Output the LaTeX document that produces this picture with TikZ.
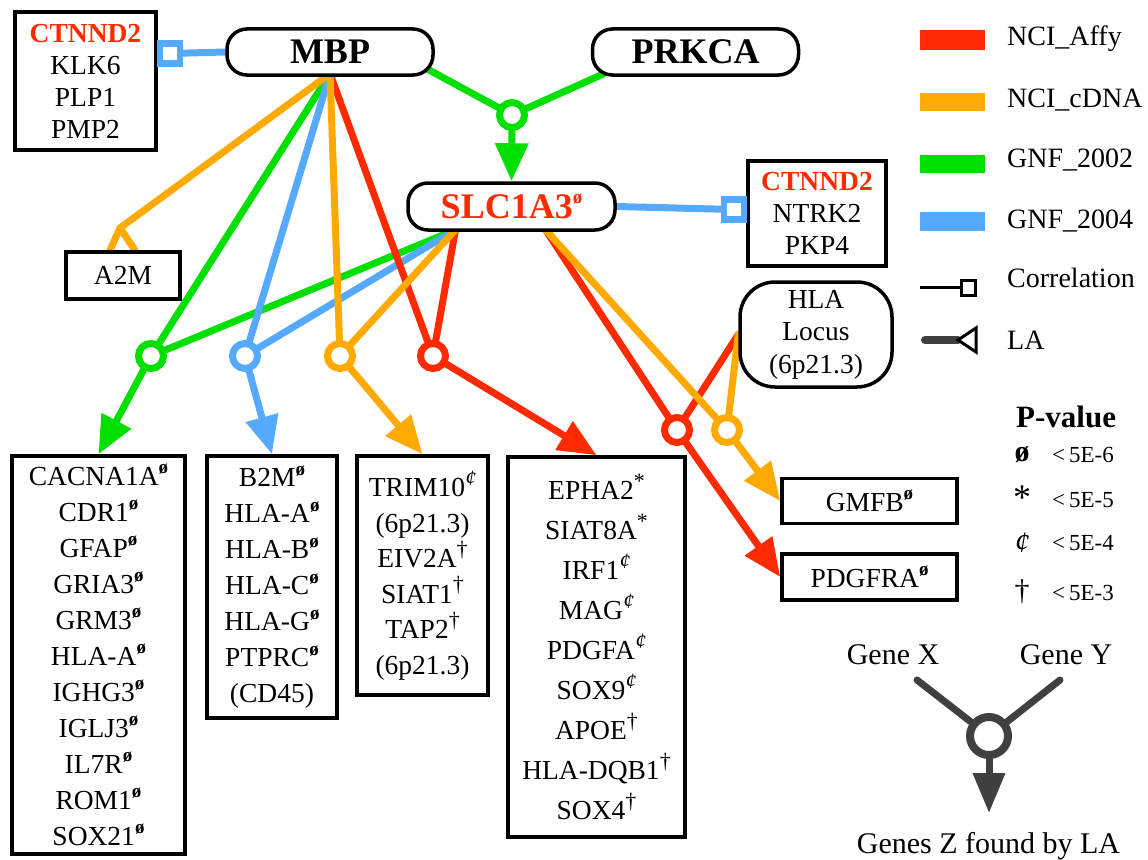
\documentclass[tikz,border=0pt]{standalone}
\usepackage{fontspec}
\setmainfont{Liberation Serif}
\usetikzlibrary{arrows.meta,calc}
\pgfdeclarelayer{background}
\pgfsetlayers{background,main}
\definecolor{cRed}{RGB}{255,42,0}
\definecolor{cOrange}{RGB}{255,170,0}
\definecolor{cGreen}{RGB}{0,224,0}
\definecolor{cBlue}{RGB}{85,170,255}
\definecolor{cDark}{RGB}{64,64,64}
% p-value marks set as raised superscripts
\newcommand\gMark[2]{\raisebox{0.42em}{\fontsize{#1}{#1}\selectfont #2}}
\newcommand\gO{\gMark{19}{\textbf{ø}}}
\newcommand\gS{\gMark{22}{*}}
\newcommand\gC{\gMark{22}{\textit{¢}}}
\newcommand\gD{\gMark{22}{†}}
\begin{document}
\begin{tikzpicture}[x=1pt,y=-1pt,
  genebox/.style={draw,line width=3.5pt,fill=white,inner sep=0pt,align=center,
    font=\fontsize{27.5}{36}\selectfont},
  hub/.style={draw,line width=3.5pt,fill=white,rounded corners=20pt,
    minimum width=206pt,minimum height=46pt,inner sep=0pt,
    font=\bfseries\fontsize{36}{40}\selectfont},
  junction/.style={circle,draw=#1,line width=7pt,fill=white,minimum size=25pt,inner sep=0pt},
  corr/.style={draw=#1,line width=6.5pt,fill=white,minimum size=20pt,inner sep=0pt},
  link/.style={draw=#1,line width=7pt,line cap=round,line join=round},
  la/.style={link=#1,-{Triangle[length=38pt,width=32pt]}},
  leg/.style={anchor=base west,inner sep=0pt,font=\fontsize{28}{30}\selectfont},
  pval/.style={anchor=base west,inner sep=0pt,font=\fontsize{23}{24}\selectfont},
  psym/.style={inner sep=0pt,font=\fontsize{30}{30}\selectfont},
  note/.style={anchor=base,inner sep=0pt,font=\fontsize{30}{32}\selectfont},
]
\useasboundingbox (0,0) rectangle (1148,859);

% ---- hub genes ----
\node[hub] (mbp) at (330,52) {MBP};
\node[hub] (prk) at (695.5,52) {PRKCA};
\node[hub,text=cRed,minimum width=207pt,minimum height=47pt] (slc) at (511.5,206.5) {SLC1A3\gO};

% ---- correlated gene groups ----
\node[genebox,minimum width=141pt,minimum height=138pt,font=\fontsize{27.5}{32}\selectfont]
  (kl) at (85.5,81) {\textcolor{cRed}{\textbf{CTNND2}}\\KLK6\\PLP1\\PMP2};
\node[genebox,minimum width=138pt,minimum height=105pt,font=\fontsize{27.5}{32}\selectfont]
  (nt) at (817,213.5) {\textcolor{cRed}{\textbf{CTNND2}}\\NTRK2\\PKP4};
\node[genebox,minimum width=114pt,minimum height=47pt] (a2m) at (123,275.5) {A2M};
\node[genebox,rounded corners=35pt,minimum width=152pt,minimum height=105pt,
  font=\fontsize{27.5}{32.5}\selectfont] (hla) at (816,334.5) {HLA\\Locus\\(6p21.3)};
\node[genebox,minimum width=175pt,minimum height=45pt] (gmfb) at (869.5,501) {GMFB\gO};
\node[genebox,minimum width=175pt,minimum height=46pt] (pdg) at (869.5,577) {PDGFRA\gO};

% ---- gene lists found by LA ----
\node[genebox,minimum width=173pt,minimum height=398pt] (b1) at (98.5,655)
  {CACNA1A\gO\\CDR1\gO\\GFAP\gO\\GRIA3\gO\\GRM3\gO\\HLA-A\gO\\IGHG3\gO\\IGLJ3\gO\\IL7R\gO\\ROM1\gO\\SOX21\gO};
\node[genebox,minimum width=130pt,minimum height=262pt] (b2) at (272,587)
  {B2M\gO\\HLA-A\gO\\HLA-B\gO\\HLA-C\gO\\HLA-G\gO\\PTPRC\gO\\(CD45)};
\node[genebox,minimum width=131pt,minimum height=239pt,font=\fontsize{27.5}{35.5}\selectfont] (b3) at (422.5,575.5)
  {TRIM10\gC\\(6p21.3)\\EIV2A\gD\\SIAT1\gD\\TAP2\gD\\(6p21.3)};
\node[genebox,minimum width=177pt,minimum height=380pt,font=\fontsize{27.5}{40}\selectfont] (b4) at (596.5,647)
  {EPHA2\gS\\SIAT8A\gS\\IRF1\gC\\MAG\gC\\PDGFA\gC\\SOX9\gC\\APOE\gD\\HLA-DQB1\gD\\SOX4\gD};

% ---- LA junctions ----
\node[junction=cGreen] (jg) at (512,115) {};
\node[junction=cGreen] (cg) at (151,356) {};
\node[junction=cBlue] (cb) at (245,356) {};
\node[junction=cOrange] (co) at (340,356) {};
\node[junction=cRed] (cr) at (433,356) {};
\node[junction=cRed] (cr2) at (677,430) {};
\node[junction=cOrange] (co2) at (727,430) {};

% ---- correlation ends ----
\node[corr=cBlue] (sqm) at (170,53.5) {};
\node[corr=cBlue] (sqs) at (734,209.5) {};

% ---- attachment points ----
\coordinate (mbpB) at ($(mbp.south)+(0,-3)$);
\coordinate (mbpR) at ($(mbp.south east)+(-8,-8)$);
\coordinate (prkL) at ($(prk.south west)+(13,-3)$);
\coordinate (slcL) at ($(slc.south)+(-56,-2)$);
\coordinate (slcR) at ($(slc.south)+(34,-2)$);
\coordinate (a2mF) at (120,228);

\begin{pgfonlayer}{background}
  % correlations
  \draw[link=cBlue] (sqm) -- (mbp.west);
  \draw[link=cBlue] (slc.east) -- (sqs);
  % MBP + PRKCA -> SLC1A3
  \draw[link=cGreen] (mbpR) -- (jg) (prkL) -- (jg);
  \draw[la=cGreen] (jg) -- (slc.north);
  % MBP + SLC1A3 pairs
  \draw[link=cGreen] (mbpB) -- (cg) (slcL) -- (cg);
  \draw[la=cGreen] (cg) -- (b1.north);
  \draw[link=cBlue] (mbpB) -- (cb) (slcL) -- (cb);
  \draw[la=cBlue] (cb) -- (b2.north);
  \draw[link=cRed] (mbpB) -- (cr) (slcL) -- (cr);
  \draw[la=cRed] (cr) -- (b4.north);
  \draw[link=cOrange] (mbpB) -- (co) (slcL) -- (co);
  \draw[la=cOrange] (co) -- (b3.north);
  % MBP -> A2M
  \draw[link=cOrange] (mbpB) -- (a2mF) -- ($(a2m.north)+(-13,0)$);
  \draw[link=cOrange] (a2mF) -- ($(a2m.north)+(12,0)$);
  % SLC1A3 + HLA locus pairs
  \draw[link=cRed] (slcR) -- (cr2) (hla.west) -- (cr2);
  \draw[la=cRed] (cr2) -- (pdg.west);
  \draw[link=cOrange] (slcR) -- (co2) (hla.west) -- (co2);
  \draw[la=cOrange] (co2) -- (gmfb.west);
\end{pgfonlayer}

% ---- data set legend ----
\fill[cRed] (920,30) rectangle (985,50);
\fill[cOrange] (920,93) rectangle (985,111);
\fill[cGreen] (920,155) rectangle (985,173);
\fill[cBlue] (920,212) rectangle (985,231);
\draw[line width=3pt] (920,287) -- (961,287);
\draw[line width=3pt,fill=white] (961,280) rectangle (975,295);
\draw[cDark,line width=8pt,line cap=round] (925,340) -- (958,340);
\draw[line width=3pt,fill=white,line join=miter] (958,340) -- (976,328) -- (976,352) -- cycle;
\node[leg] (lg1) at (1007,46) {NCI\_Affy};
\node[leg] (lg2) at (1007,107) {NCI\_cDNA};
\node[leg] (lg3) at (1007,167) {GNF\_2002};
\node[leg] (lg4) at (1007,228) {GNF\_2004};
\node[leg] (lg5) at (1007,287) {Correlation};
\node[leg] (lg6) at (1007,349) {LA};

% ---- p-value legend ----
\node[anchor=base west,inner sep=0pt,font=\bfseries\fontsize{31}{32}\selectfont] (pv) at (1016,427) {P-value};
\node[psym] (s1) at (1022,455) {\textbf{ø}};
\node[psym,font=\fontsize{36}{36}\selectfont] (s2) at (1022,498) {*};
\node[psym] (s3) at (1022,543) {\textit{¢}};
\node[psym] (s4) at (1022,592) {†};
\node[pval] (v1) at (1052,462) {<\hspace{4pt}5E-6};
\node[pval] (v2) at (1052,507) {<\hspace{4pt}5E-5};
\node[pval] (v3) at (1052,550) {<\hspace{4pt}5E-4};
\node[pval] (v4) at (1052,600) {<\hspace{4pt}5E-3};

% ---- LA key ----
\node[note] (gx) at (893,664) {Gene X};
\node[note] (gy) at (1066,664) {Gene Y};
\node[note] (gz) at (988.5,853) {Genes Z found by LA};
\coordinate (armX) at (917,680);
\coordinate (armY) at (1060,680);
\coordinate (armZ) at (989,813);
\node[junction=cDark,minimum size=38pt,line width=8pt] (lc) at (989,736) {};
\begin{pgfonlayer}{background}
  \draw[link=cDark,line width=7pt] (armX) -- (lc) (armY) -- (lc);
  \draw[link=cDark,line width=7pt,-{Triangle[length=40pt,width=31pt]}] (lc) -- (armZ);
\end{pgfonlayer}
\end{tikzpicture}
\end{document}
